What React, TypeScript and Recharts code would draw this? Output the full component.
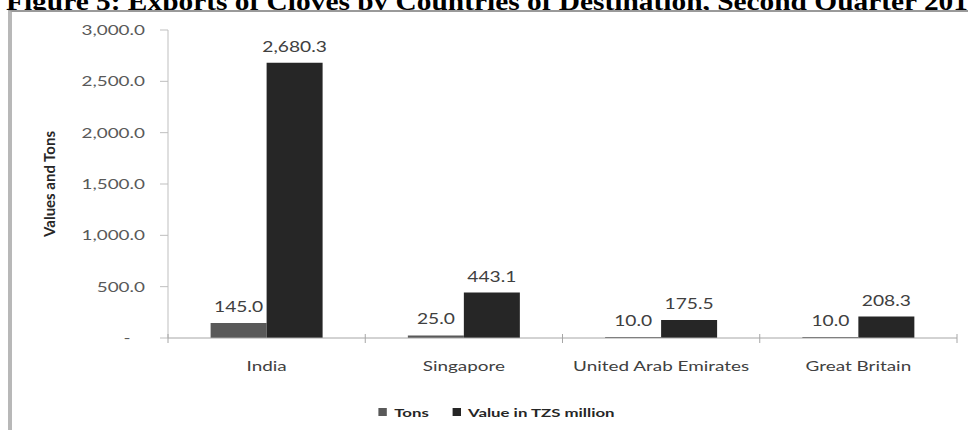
import React from 'react';
import { BarChart, Bar, XAxis, YAxis, Legend, LabelList } from 'recharts';

const categories = ['India', 'Singapore', 'United Arab Emirates', 'Great Britain'];
const tons = [145.0, 25.0, 10.0, 10.0];
const values = [2680.3, 443.1, 175.5, 208.3];
const yTicks = [0, 500, 1000, 1500, 2000, 2500, 3000];
const seriesNames = ['Tons', 'Value in TZS million'];
const seriesColors = ['#595959', '#262626'];
const titleText = 'Figure 5: Exports of Cloves by Countries of Destination, Second Quarter 201';
const yAxisTitle = 'Values and Tons';

const data = categories.map((name, i) => ({ name, tons: tons[i], value: values[i] }));

const SX = 1.35;
const FONT = 'Lato, "Open Sans", sans-serif';

const fmt = (v: number) =>
  v.toLocaleString('en-US', { minimumFractionDigits: 1, maximumFractionDigits: 1 });

const YTick = (props: any) => {
  const { x, y, payload } = props;
  const txt = payload.value === 0 ? '-\u00a0\u00a0\u00a0' : fmt(payload.value);
  return (
    <text
      transform={`translate(${x},${y}) scale(${SX},1)`}
      textAnchor="end"
      dominantBaseline="central"
      fontFamily={FONT}
      fontSize={14}
      fill="#595959"
      style={{ whiteSpace: 'pre' }}
    >
      {txt}
    </text>
  );
};

const XTick = (props: any) => {
  const { x, y, payload, index } = props;
  const half = payload && typeof payload.offset === 'number' ? payload.offset : 0;
  return (
    <g>
      {half > 0 && <line x1={x - half} x2={x - half} y1={y - 4} y2={y + 5} stroke="#a6a6a6" />}
      {half > 0 && index === categories.length - 1 && (
        <line x1={x + half} x2={x + half} y1={y - 4} y2={y + 5} stroke="#a6a6a6" />
      )}
      <text
        transform={`translate(${x},${y + 33}) scale(${SX},1)`}
        textAnchor="middle"
        fontFamily={FONT}
        fontSize={14}
        fill="#404040"
      >
        {payload.value}
      </text>
    </g>
  );
};

const BarLabel = (props: any) => {
  const vb = props.viewBox && typeof props.viewBox.x === 'number' ? props.viewBox : props;
  const { x, y, width } = vb;
  const value = props.value;
  return (
    <text
      transform={`translate(${x + width / 2},${y - 11}) scale(1.2,1)`}
      textAnchor="middle"
      fontFamily={FONT}
      fontSize={16}
      fill="#404040"
    >
      {fmt(Number(value))}
    </text>
  );
};

const YLabel = (props: any) => {
  const vb = props.viewBox;
  const x = vb.x + 29;
  const y = vb.y + vb.height / 2;
  return (
    <text
      x={x}
      y={y}
      transform={`rotate(-90 ${x} ${y})`}
      textAnchor="middle"
      dominantBaseline="central"
      fontFamily={FONT}
      fontWeight={700}
      fontSize={15}
      fill="#262626"
    >
      {yAxisTitle}
    </text>
  );
};

const LegendContent = (props: any) => {
  const payload = props.payload || [];
  return (
    <div
      style={{
        width: 968,
        height: 22,
        display: 'flex',
        justifyContent: 'center',
        alignItems: 'center',
        paddingLeft: 25,
        boxSizing: 'border-box',
        transform: 'scaleX(1.4)',
        transformOrigin: '496px 50%',
        fontFamily: FONT,
        fontWeight: 700,
        fontSize: 12,
        color: '#262626',
      }}
    >
      {payload.map((p: any, i: number) => (
        <div key={i} style={{ display: 'flex', alignItems: 'center', marginLeft: i === 0 ? 0 : 17 }}>
          <span style={{ display: 'inline-block', width: 6, height: 8, background: p.color, marginRight: 5 }} />
          <span>{p.value}</span>
        </div>
      ))}
    </div>
  );
};

export default function App() {
  return (
    <div style={{ position: 'fixed', left: 0, top: 0, width: 968, height: 430, overflow: 'hidden', background: '#fff' }}>
      <svg width={968} height={30} style={{ position: 'absolute', left: 0, top: 0 }}>
        <text
          x={6}
          y={10}
          fontFamily='"Liberation Serif", "Times New Roman", serif'
          fontWeight={700}
          fontSize={25}
          textLength={962}
          lengthAdjust="spacingAndGlyphs"
          fill="#000"
        >
          {titleText}
        </text>
      </svg>
      <div
        style={{
          position: 'absolute',
          left: 8,
          top: 10,
          width: 1000,
          height: 500,
          borderLeft: '4px solid #b8b8b8',
          borderTop: '2px solid #9a9a9a',
          background: '#fff',
        }}
      />
      <div style={{ position: 'absolute', left: 0, top: 0 }}>
        <BarChart
          width={968}
          height={430}
          data={data}
          margin={{ top: 30, right: 11, bottom: 0, left: 20 }}
          barCategoryGap="21.6%"
          barGap={0}
        >
          <XAxis
            dataKey="name"
            height={70}
            interval={0}
            tickLine={false}
            tickSize={0}
            tickMargin={0}
            axisLine={{ stroke: '#a6a6a6' }}
            tick={<XTick />}
          />
          <YAxis
            width={148}
            domain={[0, 3000]}
            ticks={yTicks}
            interval={0}
            tickSize={8}
            tickMargin={15}
            tickLine={{ stroke: '#bfbfbf' }}
            axisLine={{ stroke: '#bfbfbf' }}
            tick={<YTick />}
            label={<YLabel />}
          />
          <Legend
            verticalAlign="bottom"
            content={<LegendContent />}
            wrapperStyle={{ left: 0, width: 968, bottom: 7 }}
          />
          <Bar dataKey="tons" name={seriesNames[0]} fill={seriesColors[0]} isAnimationActive={false}>
            <LabelList dataKey="tons" content={<BarLabel />} />
          </Bar>
          <Bar dataKey="value" name={seriesNames[1]} fill={seriesColors[1]} isAnimationActive={false}>
            <LabelList dataKey="value" content={<BarLabel />} />
          </Bar>
        </BarChart>
      </div>
    </div>
  );
}
